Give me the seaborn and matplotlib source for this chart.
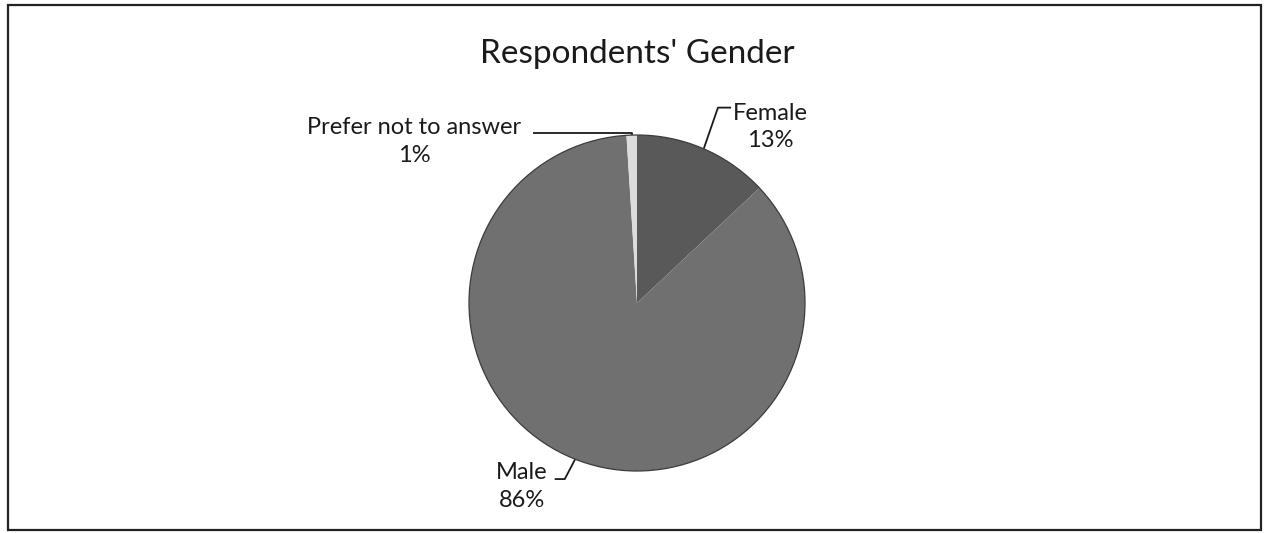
import numpy as np
import matplotlib
matplotlib.use("Agg")
import matplotlib.pyplot as plt
from matplotlib.patches import Rectangle, Circle
import seaborn as sns

# ---- data ----
categories = ["Female", "Male", "Prefer not to answer"]
shares = [13, 86, 1]
pct_labels = ["13%", "86%", "1%"]
colors = ["#595959", "#707070", "#dcdcdc"]
title = "Respondents' Gender"

sns.set_theme(style="white")
plt.rcParams['font.family'] = ['Lato', 'DejaVu Sans']

W, H = 1264, 533
fig = plt.figure(figsize=(W / 100, H / 100), dpi=100)
fig.patch.set_facecolor("white")

# pie centred at (637, 303) px with radius 168 px
cx, cy, r = 637, 303, 168
ax = fig.add_axes([(cx - r) / W, (H - cy - r) / H, 2 * r / W, 2 * r / H])

wedges, _ = ax.pie(shares, colors=colors, startangle=90, counterclock=False,
                   radius=1, wedgeprops=dict(linewidth=0))
ax.set_xlim(-1, 1)
ax.set_ylim(-1, 1)
ax.set_aspect("equal")
ax.axis("off")
ax.add_patch(Circle((0, 0), 1, facecolor="none", edgecolor="#3c3c3c",
                    linewidth=0.9, zorder=3, clip_on=False))

# label layout: (text centre, elbow, line end), in pie-radius units
layout = {
    "Female": dict(text=(0.792, 1.048), elbow=(0.482, 1.163), end=(0.56, 1.163)),
    "Male": dict(text=(-0.685, -1.09), elbow=(-0.43, -1.048), end=(-0.49, -1.048)),
    "Prefer not to answer": dict(text=(-1.325, 0.962), elbow=(-0.03, 1.012), end=(-0.62, 1.012)),
}

for w, cat, pl in zip(wedges, categories, pct_labels):
    mid = np.deg2rad((w.theta1 + w.theta2) / 2)
    ax_, ay_ = np.cos(mid), np.sin(mid)
    L = layout[cat]
    if cat == "Prefer not to answer":
        xs = [ax_, ax_, L["end"][0]]
        ys = [ay_, L["elbow"][1], L["end"][1]]
    else:
        xs = [ax_, L["elbow"][0], L["end"][0]]
        ys = [ay_, L["elbow"][1], L["end"][1]]
    ax.plot(xs, ys, color="#1a1a1a", lw=1.3, clip_on=False, solid_capstyle="butt")
    ax.text(L["text"][0], L["text"][1], f"{cat}\n{pl}", ha="center", va="center",
            multialignment="center", fontsize=17, color="#1a1a1a",
            linespacing=1.4, clip_on=False)

fig.text(637 / W, 1 - 54 / H, title, ha="center", va="center",
         fontsize=24, color="#1a1a1a")

# chart frame
fig.patches.append(Rectangle((8 / W, 3 / H), 1253 / W, 525 / H,
                             transform=fig.transFigure, facecolor="none",
                             edgecolor="#222222", linewidth=1.6))

fig.savefig("out.png", dpi=100, facecolor="white")
